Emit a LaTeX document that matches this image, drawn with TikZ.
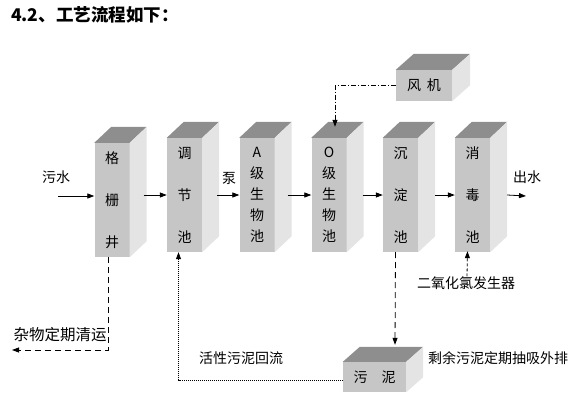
\documentclass[tikz,border=0pt]{standalone}
\usepackage{fontspec}
\setmainfont{Noto Sans CJK SC}
\usetikzlibrary{arrows.meta,calc}
\definecolor{topc}{HTML}{8E8E8E}
\definecolor{frontc}{HTML}{C6C6C6}
\definecolor{sidec}{HTML}{E4E4E4}
\tikzset{
  front/.style={fill=frontc, draw=none, minimum width=35pt, minimum height=114pt,
    inner sep=0pt, align=center, font=\fontsize{14}{21}\selectfont},
  flow/.style={-{Triangle[length=7pt,width=5pt]}, line width=0.8pt},
  lbl/.style={font=\fontsize{14}{16}\selectfont, inner sep=0pt},
  dashline/.style={dash pattern=on 6pt off 4pt},
  shortdash/.style={dash pattern=on 3pt off 2pt},
  dashdotline/.style={dash pattern=on 5pt off 2pt on 1pt off 2pt},
  dotline/.style={dash pattern=on 1pt off 1pt, line width=0.7pt},
}
\newcommand\cubefaces[3]{%
  \fill[topc] (#1.north west) -- ++(#2,-#3) -- ($(#1.north east)+(#2,-#3)$) -- (#1.north east) -- cycle;
  \fill[sidec] (#1.north east) -- ++(#2,-#3) -- ($(#1.south east)+(#2,-#3)$) -- (#1.south east) -- cycle;
}
\begin{document}
\begin{tikzpicture}[x=1pt,y=-1pt]
\useasboundingbox (0,0) rectangle (580,404);

% title
\node[anchor=west, inner sep=0pt, font=\fontsize{17.5}{19}\selectfont\bfseries] (title) at (11,15) {4.2、工艺流程如下：};

% process boxes
\node[front] (b1) at (112,200) {格\\[21pt]栅\\[21pt]井};
\node[front] (b2) at (184.5,195) {调\\[21pt]节\\[21pt]池};
\node[front] (b3) at (257,195) {A\\级\\生\\物\\池};
\node[front] (b4) at (329,195) {O\\级\\生\\物\\池};
\node[front] (b5) at (400.5,195) {沉\\[21pt]淀\\[21pt]池};
\node[front] (b6) at (472.5,195) {消\\[21pt]毒\\[21pt]池};
\foreach \b in {b1,b2,b3,b4,b5,b6} {\cubefaces{\b}{17}{16}}

% fan and sludge
\node[front, minimum width=56pt, minimum height=31pt] (fan) at (424,85.5) {风\hspace{6pt}机};
\cubefaces{fan}{18}{16}
\node[front, minimum width=63pt, minimum height=30pt] (sl) at (374.5,377) {污\hspace{14pt}泥};
\cubefaces{sl}{17}{15}

% labels
\node[lbl] (inl) at (56,177) {污水};
\node[lbl] (pump) at (229,178) {泵};
\node[lbl] (outl) at (527,177) {出水};
\node[lbl, font=\fontsize{15.5}{17}\selectfont] (junkl) at (60,335) {杂物定期清运};
\node[lbl] (retl) at (241,358) {活性污泥回流};
\node[lbl] (exl) at (498,358) {剩余污泥定期抽吸外排};
\node[lbl] (cl) at (466,283) {二氧化氯发生器};

% coordinates
\coordinate (in) at (58,196);
\coordinate (out) at (526,196);
\coordinate (junk) at (12,350);

% main flow
\draw[flow] (in) -- (in -| b1.west);
\draw[flow] ([xshift=14pt]b1.east |- b2.west) -- (b2.west);
\draw[flow] ([xshift=15pt]b2.east) -- (b3.west);
\draw[flow] ([xshift=13pt]b3.east) -- (b4.west);
\draw[flow] ([xshift=16pt]b4.east) -- (b5.west);
\draw[flow] ([xshift=17pt]b5.east) -- (b6.west);
\draw[flow] ([xshift=17pt]b6.east) -- (out);

% air from fan
\draw[flow, dashdotline] (fan.west) -| ([xshift=6pt,yshift=11pt]b4.north);

% screenings removal
\draw[flow, dashline] ([xshift=-4pt]b1.south) |- (junk);

% sludge
\draw[flow, dashline] ([xshift=-5pt]b5.south) -- ([xshift=20.5pt,yshift=17pt]sl.north);
\draw[flow, dotline] ([yshift=-3pt]sl.west) -| ([xshift=-6pt]b2.south);

% chlorine dioxide
\draw[flow, shortdash] (cl.north -| 467,0) -- ([xshift=-5pt,yshift=1pt]b6.south);
\end{tikzpicture}
\end{document}
